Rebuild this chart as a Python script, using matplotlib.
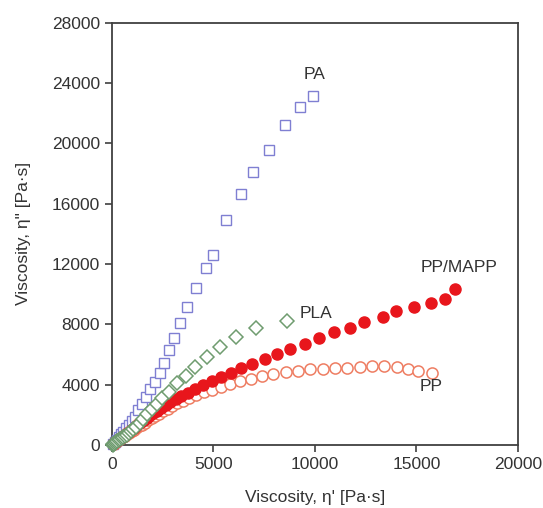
import matplotlib
matplotlib.use("Agg")
import matplotlib.pyplot as plt

plt.rcParams['font.family'] = ['Liberation Sans', 'DejaVu Sans']

# данные (eta', eta'')
pa_x = [60, 140, 230, 330, 440, 560, 700, 850, 1000, 1146, 1309, 1476, 1673, 1870, 2130, 2376,
        2588, 2819, 3080, 3346, 3690, 4133, 4654, 4999, 5609, 6347, 6937, 7739, 8541, 9279, 9919]
pa_y = [90, 210, 360, 520, 700, 890, 1110, 1360, 1610, 1876, 2320, 2718, 3202, 3693, 4197, 4754,
        5417, 6299, 7114, 8109, 9170, 10389, 11735, 12617, 14918, 16622, 18120, 19539, 21236, 22429, 23158]

pla_x = [40, 80, 120, 160, 200, 260, 330, 400, 480, 560, 640, 730, 830, 940, 1060, 1210, 1378, 1555,
         1752, 1968, 2214, 2490, 2819, 3198, 3641, 4113, 4674, 5343, 6101, 7100, 8640]
pla_y = [30, 60, 100, 140, 180, 240, 300, 370, 440, 520, 600, 690, 790, 900, 1030, 1200, 1439, 1724,
         2035, 2367, 2718, 3096, 3534, 4091, 4575, 5191, 5814, 6517, 7140, 7757, 8241]

mapp_x = [60, 160, 260, 360, 460, 560, 660, 760, 860, 960, 1070, 1180, 1300, 1426, 1570, 1717, 1880,
          2047, 2243, 2440, 2657, 2883, 3149, 3424, 3739, 4098, 4492, 4920, 5363, 5870, 6376, 6918,
          7528, 8148, 8772, 9495, 10199, 10937, 11710, 12428, 13348, 14002, 14873, 15695, 16384, 16890]
mapp_y = [90, 190, 290, 390, 490, 590, 690, 790, 890, 1000, 1120, 1240, 1370, 1512, 1664, 1816, 1969,
          2102, 2274, 2453, 2632, 2831, 3030, 3249, 3468, 3713, 3978, 4223, 4528, 4793, 5125, 5370,
          5722, 6013, 6365, 6676, 7074, 7512, 7777, 8175, 8506, 8884, 9169, 9435, 9660, 10323]

pp_x = [100, 200, 310, 420, 530, 640, 750, 860, 970, 1090, 1210, 1340, 1480, 1630, 1790, 1960, 2140,
        2330, 2530, 2750, 2983, 3228, 3508, 3818, 4162, 4541, 4950, 5363, 5820, 6312, 6839, 7380,
        7951, 8561, 9166, 9771, 10396, 10986, 11592, 12202, 12792, 13397, 14022, 14578, 15085, 15774]
pp_y = [100, 200, 300, 400, 500, 600, 700, 800, 900, 1010, 1120, 1240, 1360, 1490, 1630, 1770, 1920,
        2080, 2240, 2410, 2586, 2765, 2937, 3116, 3295, 3494, 3666, 3865, 4064, 4243, 4396, 4575,
        4727, 4840, 4926, 5019, 5059, 5085, 5125, 5191, 5238, 5238, 5191, 5019, 4926, 4793]

fig = plt.figure(figsize=(5.43, 5.08), dpi=100)
ax = fig.add_axes([0.206, 0.124, 0.748, 0.831])

ax.plot(pa_x, pa_y, 's', ms=7.5, mfc='white', mec='#7f7fd2', mew=1.0, ls='none', clip_on=False, zorder=3)
ax.plot(pp_x, pp_y, 'o', ms=8, mfc='white', mec='#ee7d62', mew=1.1, ls='none', clip_on=False, zorder=3)
ax.plot(mapp_x, mapp_y, 'o', ms=8, mfc='#e8161c', mec='#e8161c', ls='none', clip_on=False, zorder=4)
ax.plot(pla_x, pla_y, 'D', ms=7, mfc='white', mec='#6f9c6f', mew=1.1, ls='none', clip_on=False, zorder=5)

# подписи серий
ax.text(10000, 24550, 'PA', fontsize=12.5, color='#333333', ha='center', va='center')
ax.text(9250, 8750, 'PLA', fontsize=12.5, color='#333333', ha='left', va='center')
ax.text(17100, 11750, 'PP/MAPP', fontsize=12.5, color='#333333', ha='center', va='center')
ax.text(15700, 3900, 'PP', fontsize=12.5, color='#333333', ha='center', va='center')

ax.set_xlim(0, 20000)
ax.set_ylim(0, 28000)
ax.set_xticks([0, 5000, 10000, 15000, 20000])
ax.set_yticks(range(0, 28001, 4000))
ax.tick_params(direction='out', length=5, width=1.2, labelsize=12.5, colors='#404040',
               labelcolor='#333333', top=False, right=False)
for s in ax.spines.values():
    s.set_color('#404040')
    s.set_linewidth(1.3)

ax.set_xlabel("Viscosity, η' [Pa·s]", fontsize=12.5, color='#333333', labelpad=13)
ax.set_ylabel('Viscosity, η" [Pa·s]', fontsize=12.5, color='#333333', labelpad=15)

fig.savefig('out.png', dpi=100)
